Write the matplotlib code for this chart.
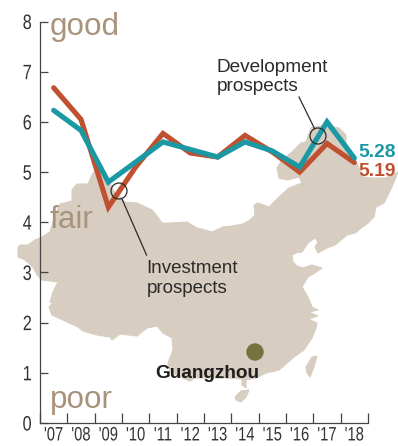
import matplotlib
matplotlib.use("Agg")
import matplotlib.pyplot as plt
from matplotlib.patches import Circle, Polygon
from matplotlib.patheffects import AbstractPathEffect
from matplotlib.transforms import Affine2D

years = ["'07", "'08", "'09", "'10", "'11", "'12", "'13", "'14", "'15", "'16", "'17", "'18"]
investment = [6.68, 6.05, 4.3, 5.1, 5.77, 5.38, 5.3, 5.73, 5.4, 5.0, 5.57, 5.19]
development = [6.23, 5.83, 4.8, 5.2, 5.6, 5.45, 5.3, 5.6, 5.42, 5.1, 6.0, 5.28]

# map outline in pixels
china_x = [18, 20, 28, 35, 40, 50, 55, 60, 72, 72, 77, 88, 93, 100, 107, 113, 125, 137, 152, 157, 162, 170, 187,
           197, 205, 212, 223, 232, 243, 250, 255, 254, 258, 261, 269, 279, 289, 302, 299, 287, 279, 277, 282,
           292, 301, 306, 311, 325, 339, 346, 346, 355, 364, 372, 386, 398, 392, 384, 376, 374, 368, 355, 347,
           335, 327, 318, 315, 318, 315, 308, 302, 296, 292, 293, 297, 303, 312, 322, 315, 308, 302, 308, 312,
           318, 309, 318, 308, 317, 316, 312, 304, 294, 279, 266, 256, 246, 246, 242, 242, 225, 205, 195, 190,
           185, 176, 170, 168, 173, 172, 163, 157, 147, 137, 120, 112, 110, 97, 83, 78, 63, 52, 49, 53, 50, 53,
           58, 42, 37, 33, 25, 18]
china_y = [248, 245, 245, 240, 238, 232, 215, 204, 201, 190, 184, 184, 173, 167, 177, 190, 202, 203, 210, 216,
           223, 223, 222, 228, 230, 232, 227, 226, 224, 220, 215, 205, 203, 204, 207, 197, 188, 183, 177, 180,
           178, 168, 160, 152, 143, 142, 128, 125, 128, 135, 143, 160, 177, 178, 178, 172, 187, 203, 207, 217,
           223, 233, 235, 245, 248, 253, 247, 242, 238, 243, 252, 253, 255, 262, 266, 268, 265, 268, 273, 277,
           287, 297, 307, 310, 312, 316, 319, 323, 328, 338, 350, 357, 370, 373, 378, 380, 388, 385, 379, 378,
           378, 378, 381, 379, 375, 370, 363, 350, 338, 333, 326, 328, 336, 334, 340, 337, 335, 331, 327, 320,
           315, 307, 303, 302, 292, 282, 280, 275, 267, 260, 257]
taiwan_x = [306, 312, 317, 314, 310, 307]
taiwan_y = [367, 357, 356, 367, 377, 373]
hainan_x = [235, 241, 249, 246, 241, 236]
hainan_y = [397, 391, 390, 397, 402, 400]


class Squeeze(AbstractPathEffect):
    # narrows real text about its own centre, no condensed font installed
    def __init__(self, s):
        super().__init__()
        self.s = s

    def draw_path(self, renderer, gc, tpath, affine, rgbFace=None):
        ext = tpath.get_extents()
        cx = (ext.x0 + ext.x1) / 2
        t = Affine2D().translate(-cx, 0).scale(self.s, 1).translate(cx, 0)
        renderer.draw_path(gc, tpath, t + affine, rgbFace)


W, H = 398, 446
plt.rcParams['font.family'] = ['Liberation Sans', 'DejaVu Sans']
fig = plt.figure(figsize=(W / 100, H / 100), dpi=100)

# map sits under everything, in picture pixels
base = fig.add_axes([0, 0, 1, 1], zorder=0)
base.set_xlim(0, W)
base.set_ylim(H, 0)
base.axis('off')
tan = '#d8cdc1'
for xs, ys in [(china_x, china_y), (taiwan_x, taiwan_y), (hainan_x, hainan_y)]:
    base.add_patch(Polygon(list(zip(xs, ys)), closed=True, fc=tan, ec=tan, lw=0.8, joinstyle='round'))

ax = fig.add_axes([40 / W, (H - 423) / H, 328 / W, 401.5 / H], zorder=1)
ax.patch.set_visible(False)
ax.set_xlim(0, 12)
ax.set_ylim(0, 8)
pos = [i + 0.5 for i in range(12)]
ax.plot(pos, investment, color='#bf5130', lw=3.7, solid_joinstyle='miter', solid_capstyle='round')
ax.plot(pos, development, color='#1a98a4', lw=3.7, solid_joinstyle='miter', solid_capstyle='round')

for s in ['top', 'right']:
    ax.spines[s].set_visible(False)
for s in ['left', 'bottom']:
    ax.spines[s].set_color('#444444')
    ax.spines[s].set_linewidth(0.9)
ax.set_yticks(range(9))
ax.tick_params(axis='y', direction='in', length=6, width=0.9, color='#444444', pad=5,
               labelsize=15, labelcolor='#333333')
ax.set_xticks(range(13))
ax.set_xticklabels([])
ax.tick_params(axis='x', which='major', direction='in', length=7, width=0.9, color='#444444')
ax.set_xticks(pos, minor=True)
ax.set_xticklabels(years, minor=True)
ax.tick_params(axis='x', which='minor', length=0, pad=3.2, labelsize=14, labelcolor='#333333')
for lab in ax.get_yticklabels():
    lab.set_path_effects([Squeeze(0.78)])
for lab in ax.get_xticklabels(minor=True):
    lab.set_path_effects([Squeeze(0.76)])

# annotations on top of the lines
top = fig.add_axes([0, 0, 1, 1], zorder=2)
top.set_xlim(0, W)
top.set_ylim(H, 0)
top.axis('off')
word = '#a8937b'
top.text(50, 35, 'good', fontsize=22.6, color=word, va='baseline')
top.text(50, 228, 'fair', fontsize=22.6, color=word, va='baseline')
top.text(50, 408, 'poor', fontsize=22.6, color=word, va='baseline')

ink = '#2b2b2b'
top.add_patch(Circle((119, 191), 8, fc='none', ec=ink, lw=0.9))
top.add_patch(Circle((318, 136), 8, fc='none', ec=ink, lw=0.9))
top.plot([122, 146.5], [199, 255], color=ink, lw=0.9)
top.plot([299, 314.5], [97, 128.5], color=ink, lw=0.9)
top.text(217, 72, 'Development', fontsize=13.7, color=ink, va='baseline')
top.text(217, 91, 'prospects', fontsize=13.7, color=ink, va='baseline')
top.text(146.5, 273, 'Investment', fontsize=13.5, color=ink, va='baseline')
top.text(146.5, 293, 'prospects', fontsize=13.5, color=ink, va='baseline')

top.add_patch(Circle((255, 352), 8.7, fc='#75733f', ec='none'))
top.text(155, 378, 'Guangzhou', fontsize=13.7, fontweight='bold', color='#1e1e1e', va='baseline')
top.text(358, 157, '5.28', fontsize=13.9, fontweight='bold', color='#1a98a4', va='baseline')
top.text(358, 176, '5.19', fontsize=13.9, fontweight='bold', color='#bf5130', va='baseline')

fig.savefig('out.png', dpi=100)
